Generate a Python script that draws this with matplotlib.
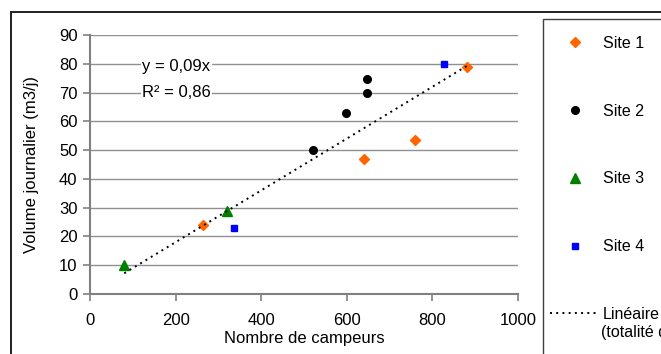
import matplotlib
matplotlib.use("Agg")
import matplotlib.pyplot as plt
import matplotlib.patches as patches
import numpy as np

plt.rcParams['font.family'] = ['Liberation Sans', 'DejaVu Sans']

# campeurs / volume journalier (m3/j) par site
site1_x = [265, 640, 760, 880]
site1_y = [24, 47, 53.5, 78.8]
site2_x = [520, 598, 648, 648]
site2_y = [50, 63, 70, 74.6]
site3_x = [80, 320]
site3_y = [10, 29]
site4_x = [337, 826]
site4_y = [23, 80]

slope = 0.09
r2 = 0.86
trend_x = [80, 880]

x_ticks = [0, 200, 400, 600, 800, 1000]
y_ticks = list(range(0, 100, 10))

fig = plt.figure(figsize=(6.61, 3.54), dpi=100)
ax = fig.add_axes([90 / 661, 1 - 294 / 354, 428 / 661, 259 / 354])

# outer chart frame (runs off the right and bottom edges)
fig.patches.append(patches.Rectangle((11 / 661, -0.1), 2, 1 - 12 / 354 + 0.1,
                                     transform=fig.transFigure, fill=False,
                                     edgecolor='#202020', linewidth=1.4))
# legend frame
fig.patches.append(patches.Rectangle((543 / 661, -0.1), 2, 1 - 19 / 354 + 0.1,
                                     transform=fig.transFigure, fill=False,
                                     edgecolor='#404040', linewidth=1.0))

ax.plot(site1_x, site1_y, linestyle='none', marker='D', markersize=4.8,
        color='#FF6600', label='Site 1')
ax.plot(site2_x, site2_y, linestyle='none', marker='o', markersize=5.5,
        color='black', label='Site 2')
ax.plot(site3_x, site3_y, linestyle='none', marker='^', markersize=6.5,
        color='#008000', label='Site 3')
ax.plot(site4_x, site4_y, linestyle='none', marker='s', markersize=5,
        color='#0000FF', label='Site 4')
trend_y = [slope * v for v in trend_x]
ax.plot(trend_x, trend_y, color='black', linestyle=(0, (1, 2.2)),
        linewidth=1.4, label='Linéaire')

ax.text(122, 79, 'y = 0,09x', fontsize=12, va='center', ha='left',
        bbox=dict(facecolor='white', edgecolor='none', pad=1))
ax.text(122, 70, 'R² = {:.2f}'.format(r2).replace('.', ','), fontsize=12,
        va='center', ha='left',
        bbox=dict(facecolor='white', edgecolor='none', pad=1))

ax.set_xlim(0, 1000)
ax.set_ylim(0, 90)
ax.set_xticks(x_ticks)
ax.set_yticks(y_ticks)
ax.yaxis.grid(True, color='#909090', linewidth=1.0)
ax.set_axisbelow(True)
for side in ['top', 'right']:
    ax.spines[side].set_visible(False)
for side in ['left', 'bottom']:
    ax.spines[side].set_color('#808080')
    ax.spines[side].set_linewidth(1.5)
ax.tick_params(axis='both', direction='out', length=5, width=1.2,
               color='#808080', labelsize=12, pad=4)
ax.tick_params(axis='x', pad=9)
ax.set_xlabel('Nombre de campeurs', fontsize=12, labelpad=2)
ax.set_ylabel('Volume journalier (m3/j)', fontsize=12, labelpad=14)

leg = fig.legend(loc='upper left', bbox_to_anchor=(550 / 661, 1 - 36 / 354),
                 frameon=False, fontsize=11.5, labelspacing=3.3,
                 handlelength=3.07, handletextpad=0.25, borderpad=0,
                 borderaxespad=0)
fig.text(601 / 661, 1 - 333 / 354, '(totalité des sites)', fontsize=11.5,
         va='center', ha='left')

fig.savefig('out.png', dpi=100)
